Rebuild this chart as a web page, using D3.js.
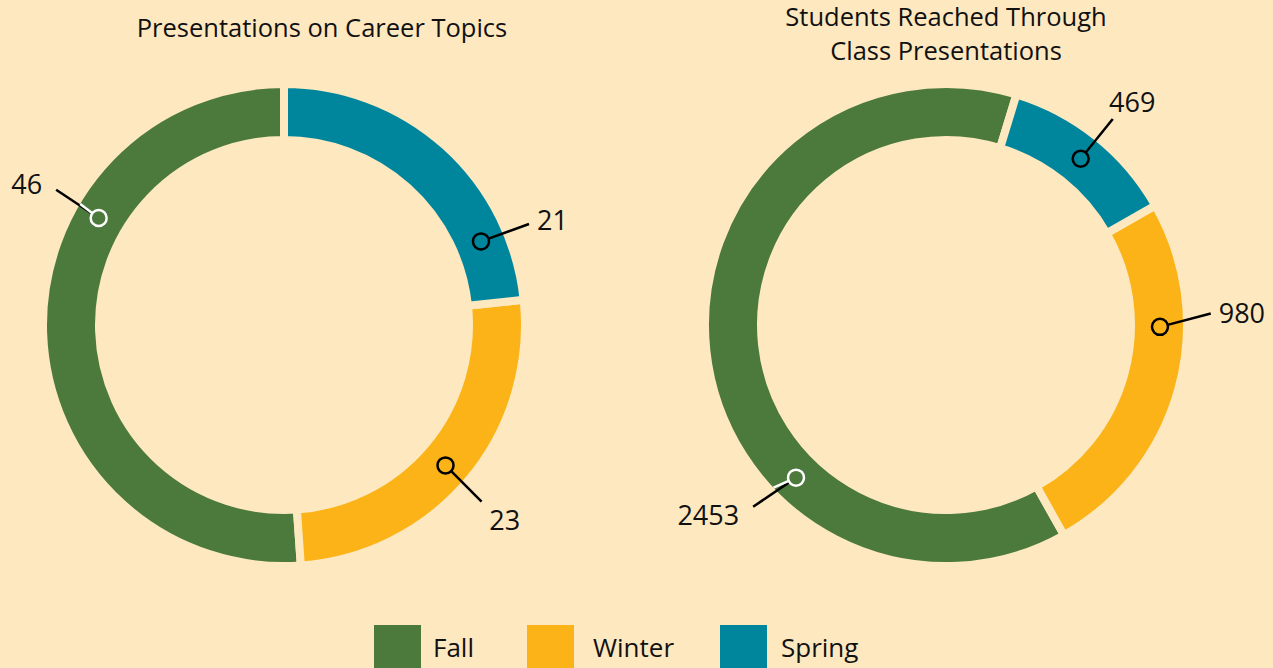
<!DOCTYPE html>
<html><head><meta charset="utf-8">
<script src="https://cdn.jsdelivr.net/npm/d3@7"></script>
<style>html,body{margin:0;padding:0;background:#fde8c0;}svg{display:block;}</style>
</head><body>
<svg id="c" width="1273" height="668"></svg>
<script>
// ---- data ----
const seasons = ["Fall", "Winter", "Spring"];
const colors = ["#4b7a3c", "#fbb318", "#00869c"];
const presentations = [46, 23, 21];
const students = [2453, 980, 469];
const titleLeft = ["Presentations on Career Topics"];
const titleRight = ["Students Reached Through", "Class Presentations"];
// label marker / leader angles (degrees clockwise from 12 o'clock)
const markerAnglesLeft = [300, 131, 67];
const leaderAnglesLeft = [300.7, 131.8, 67.6];
const markerAnglesRight = [224.5, 90.5, 39];
const leaderAnglesRight = [226.7, 87.5, 39];

const bg = "#fde8c0";
const svg = d3.select("#c");
const color = d3.scaleOrdinal().domain(seasons).range(colors);
const font = "'Open Sans', sans-serif";

function donut(cx, cy, values, startDeg, markerAngles, leaderAngles, titleLines, titleX, titleY) {
  const g = svg.append("g").attr("transform", `translate(${cx},${cy})`);
  const data = seasons.map((s, i) => ({season: s, value: values[i], marker: markerAngles[i], leader: leaderAngles[i]}));
  const order = ["Spring", "Winter", "Fall"];
  const start = startDeg * Math.PI / 180;
  const pie = d3.pie().value(d => d.value)
    .sort((a, b) => order.indexOf(a.season) - order.indexOf(b.season))
    .startAngle(start).endAngle(start + 2 * Math.PI);
  const arc = d3.arc().innerRadius(185).outerRadius(241);
  g.selectAll("path.seg").data(pie(data)).join("path")
    .attr("class", "seg")
    .attr("d", arc)
    .attr("fill", d => color(d.data.season))
    .attr("stroke", bg).attr("stroke-width", 8).attr("stroke-linejoin", "miter");

  const rMark = 214, rEnd = 265, rOuter = 237;
  const pt = (a, r) => [r * Math.sin(a * Math.PI / 180), -r * Math.cos(a * Math.PI / 180)];
  data.forEach(d => {
    const m = pt(d.marker, rMark), e = pt(d.leader, rEnd), o = pt(d.leader, rOuter);
    const white = d.season === "Fall";
    g.append("line").attr("x1", m[0]).attr("y1", m[1]).attr("x2", e[0]).attr("y2", e[1])
      .attr("stroke", "#000").attr("stroke-width", 2.5);
    if (white) {
      g.append("line").attr("x1", m[0]).attr("y1", m[1]).attr("x2", o[0]).attr("y2", o[1])
        .attr("stroke", "#fff").attr("stroke-width", 2.5);
    }
    g.append("circle").attr("cx", m[0]).attr("cy", m[1]).attr("r", 8)
      .attr("fill", color(d.season)).attr("stroke", white ? "#fff" : "#000").attr("stroke-width", 2.5);
    const a = d.leader * Math.PI / 180;
    const s = Math.sin(a), c = Math.cos(a);
    const anchor = s > 0.8 ? "start" : (s < -0.7 ? "end" : "middle");
    let tx, ty;
    if (anchor === "middle") { tx = e[0] + s * 31; ty = e[1] - Math.sign(c) * 18; }
    else { tx = e[0] + (anchor === "start" ? 8 : -14); ty = e[1] - c * 12; }
    g.append("text").attr("x", tx).attr("y", ty).attr("text-anchor", anchor)
      .attr("dominant-baseline", "central")
      .attr("font-family", font).attr("font-size", 27).attr("fill", "#111")
      .text(d3.format("d")(d.value));
  });

  svg.append("g").selectAll("text").data(titleLines).join("text")
    .attr("x", titleX).attr("y", (d, i) => titleY + i * 34)
    .attr("text-anchor", "middle")
    .attr("font-family", font).attr("font-size", 25.5).attr("fill", "#111")
    .text(d => d);
}

donut(284, 325, presentations, 0, markerAnglesLeft, leaderAnglesLeft, titleLeft, 322, 37);
donut(946, 325, students, 17, markerAnglesRight, leaderAnglesRight, titleRight, 946, 26);

// legend
const legendX = [374, 527, 720];
const legendTextGap = [59, 66, 61];
const lg = svg.append("g");
seasons.forEach((s, i) => {
  lg.append("rect").attr("x", legendX[i]).attr("y", 625).attr("width", 47).attr("height", 47)
    .attr("fill", color(s));
  lg.append("text").attr("x", legendX[i] + legendTextGap[i]).attr("y", 657)
    .attr("font-family", font).attr("font-size", 26).attr("fill", "#111").text(s);
});
</script>
</body></html>
